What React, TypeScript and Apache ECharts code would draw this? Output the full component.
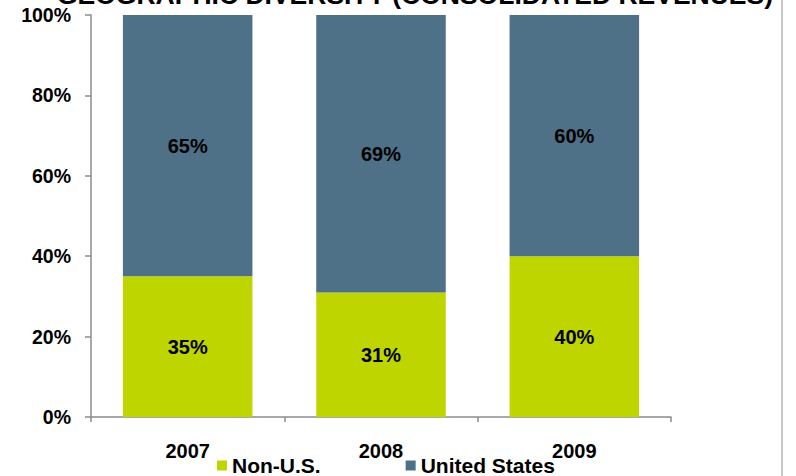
import React, { useEffect, useRef } from "react";
import * as echarts from "echarts";

const categories = ["2007", "2008", "2009"];
const nonUS = [35, 31, 40];
const unitedStates = [65, 69, 60];
const yTicks = [0, 20, 40, 60, 80, 100];
const titleText = "GEOGRAPHIC DIVERSITY (CONSOLIDATED REVENUES)";

const FONT = "'Liberation Sans', Arial, sans-serif";

export default function App() {
  const ref = useRef<HTMLDivElement>(null);
  useEffect(() => {
    if (!ref.current) return;
    const chart = echarts.init(ref.current, undefined, { renderer: "svg" });
    const label = {
      show: true,
      position: "inside",
      formatter: (p: any) => p.value + "%",
      color: "#000",
      fontFamily: FONT,
      fontWeight: "bold",
      fontSize: 20,
    };
    chart.setOption({
      animation: false,
      backgroundColor: "#fff",
      textStyle: { fontFamily: FONT },
      grid: { left: 91, right: 125, top: 15, bottom: 59, containLabel: false },
      legend: {
        left: 212,
        top: 450,
        itemWidth: 10,
        itemHeight: 10,
        itemGap: 85,
        icon: "rect",
        textStyle: { fontFamily: FONT, fontWeight: "bold", fontSize: 21, color: "#000" },
        data: ["Non-U.S.", "United States"],
      },
      xAxis: {
        type: "category",
        data: categories,
        axisLine: { lineStyle: { color: "#8c8c8c", width: 1.5 } },
        axisTick: { show: true, length: 5, alignWithLabel: false, lineStyle: { color: "#8c8c8c", width: 1.5 } },
        axisLabel: { margin: 24, color: "#000", fontFamily: FONT, fontWeight: "bold", fontSize: 20 },
      },
      yAxis: {
        type: "value",
        min: yTicks[0],
        max: yTicks[yTicks.length - 1],
        interval: 20,
        splitLine: { show: false },
        axisLine: { show: true, lineStyle: { color: "#8c8c8c", width: 1.5 } },
        axisTick: { show: true, length: 6, lineStyle: { color: "#8c8c8c", width: 1.5 } },
        axisLabel: {
          margin: 20,
          color: "#000",
          fontFamily: FONT,
          fontWeight: "bold",
          fontSize: 19.5,
          formatter: (v: number) => v + "%",
        },
      },
      series: [
        {
          name: "Non-U.S.",
          type: "bar",
          stack: "total",
          barWidth: "67%",
          data: nonUS,
          itemStyle: { color: "#BFD500" },
          label,
        },
        {
          name: "United States",
          type: "bar",
          stack: "total",
          barWidth: "67%",
          data: unitedStates,
          itemStyle: { color: "#4F7187" },
          label,
        },
      ],
      graphic: [
        {
          type: "text",
          x: 415,
          y: -5,
          style: {
            text: titleText,
            x: 0,
            y: 0,
            fill: "#000",
            font: "bold 26.5px " + FONT,
            textAlign: "center",
            textVerticalAlign: "middle",
          },
        },
        {
          type: "rect",
          shape: { x: 781, y: 0, width: 2, height: 476 },
          style: { fill: "#c8c8c8" },
        },
      ],
    });
    return () => chart.dispose();
  }, []);
  return (
    <div
      ref={ref}
      style={{ position: "fixed", left: 0, top: 0, width: 796, height: 476 }}
    />
  );
}
